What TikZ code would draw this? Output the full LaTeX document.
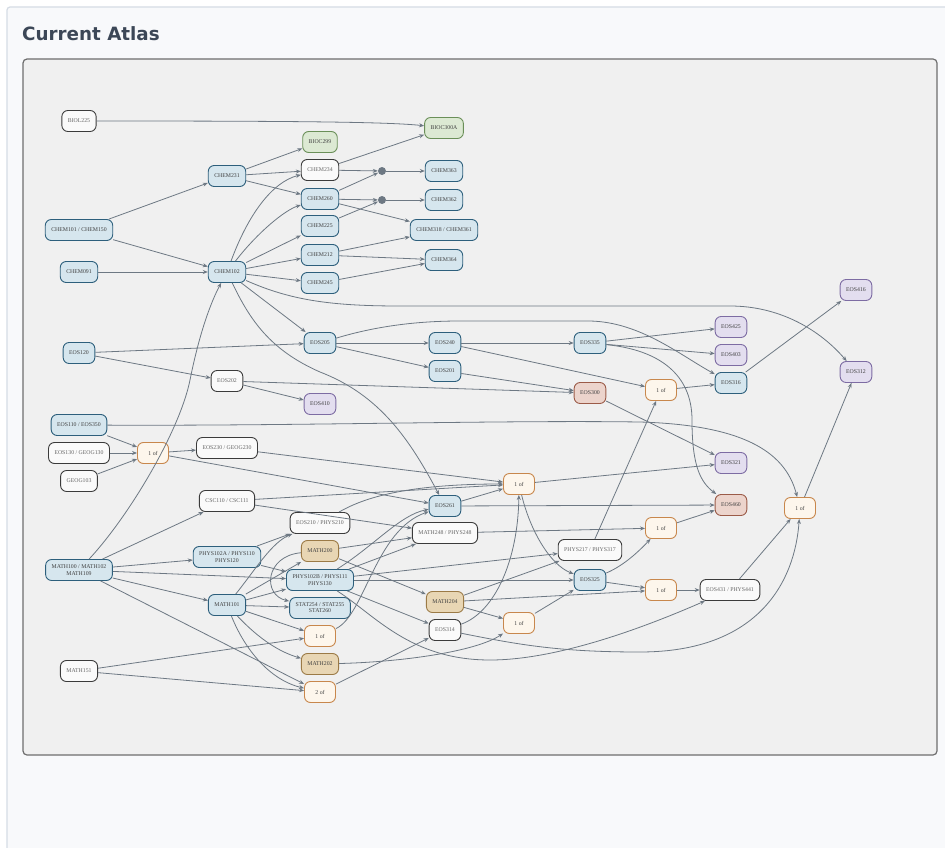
\documentclass[tikz,border=0pt]{standalone}
\usepackage{fontspec}
\usetikzlibrary{arrows.meta}
\newfontfamily\nodefont{Liberation Serif}
\newfontfamily\titlefont{DejaVu Sans}
\definecolor{edgegray}{HTML}{6D7883}
\definecolor{titlecol}{HTML}{3C4757}
\definecolor{cardline}{HTML}{D5DCE5}
\definecolor{cardfill}{HTML}{F8F9FB}
\definecolor{bluefill}{HTML}{D6E6EE}\definecolor{blueline}{HTML}{2D5F7C}
\definecolor{plainfill}{HTML}{FAFAFA}\definecolor{plainline}{HTML}{3B3B3B}
\definecolor{greenfill}{HTML}{DCE9D3}\definecolor{greenline}{HTML}{6A8F58}
\definecolor{purplefill}{HTML}{E3DEEF}\definecolor{purpleline}{HTML}{7D6CA3}
\definecolor{redfill}{HTML}{ECD4CC}\definecolor{redline}{HTML}{9B5B48}
\definecolor{tanfill}{HTML}{E8D6B4}\definecolor{tanline}{HTML}{9B7A46}
\definecolor{pickfill}{HTML}{FDF6EC}\definecolor{pickline}{HTML}{C8874C}
\tikzset{
  course/.style={rounded corners=6pt, draw, line width=0.9pt, align=center,
    font=\nodefont\fontsize{5.8}{6.2}\selectfont, text=black!75,
    inner xsep=6pt, inner ysep=2pt, minimum height=21pt, minimum width=31pt},
  blue/.style={course, fill=bluefill, draw=blueline},
  plain/.style={course, fill=plainfill, draw=plainline, text=black!60},
  green/.style={course, fill=greenfill, draw=greenline},
  purple/.style={course, fill=purplefill, draw=purpleline},
  red/.style={course, fill=redfill, draw=redline},
  tan/.style={course, fill=tanfill, draw=tanline},
  pick/.style={course, fill=pickfill, draw=pickline},
  junction/.style={circle, fill=edgegray, inner sep=0pt, minimum size=8pt},
  edge/.style={draw=edgegray, line width=0.8pt, -{Stealth[length=5pt,width=4pt]}}
}

\begin{document}
\begin{tikzpicture}[x=1pt,y=-1pt]
		%%%%% FRAME %%%%%
		\useasboundingbox (0,0) rectangle (945,848);
		\fill[white] (0,0) rectangle (945,848);
		\draw[fill=cardfill, draw=cardline, line width=1.2pt, rounded corners=3pt] (7,7) rectangle (960,870);
		\node[anchor=base west, inner sep=0pt, text=titlecol, font=\titlefont\bfseries\fontsize{18.3}{20}\selectfont] (title) at (22,41) {Current Atlas};
		\draw[fill=black!6!white, draw=black!57, line width=1.2pt, rounded corners=4pt] (23,59) rectangle (937,755);
		
		%%%%% CHEMISTRY %%%%%
		\node[plain] (biol225) at (79,121) {BIOL225};
		\node[green] (bioc300a) at (444,128) {BIOC300A};
		\node[green] (bioc299) at (320,142) {BIOC299};
		\node[plain] (chem234) at (320,170) {CHEM234};
		\node[blue] (chem231) at (227,176) {CHEM231};
		\node[blue] (chem363) at (444,171) {CHEM363};
		\node[blue] (chem260) at (320,199) {CHEM260};
		\node[blue] (chem362) at (444,200) {CHEM362};
		\node[junction] (dotA) at (382,171) {};
		\node[junction] (dotB) at (382,200) {};
		\node[blue] (chem225) at (320,226) {CHEM225};
		\node[blue] (chem318) at (444,230) {CHEM318 / CHEM361};
		\node[blue] (chem101) at (79,230) {CHEM101 / CHEM150};
		\node[blue] (chem212) at (320,255) {CHEM212};
		\node[blue] (chem364) at (444,260) {CHEM364};
		\node[blue] (chem091) at (79,272) {CHEM091};
		\node[blue] (chem102) at (227,272) {CHEM102};
		\node[blue] (chem245) at (320,283) {CHEM245};
		
		%%%%% EARTH AND OCEAN %%%%%
		\node[purple] (eos416) at (856,290) {EOS416};
		\node[purple] (eos425) at (731,327) {EOS425};
		\node[blue] (eos205) at (320,343) {EOS205};
		\node[blue] (eos240) at (445,343) {EOS240};
		\node[blue] (eos335) at (590,343) {EOS335};
		\node[blue] (eos120) at (79,353) {EOS120};
		\node[purple] (eos403) at (731,355) {EOS403};
		\node[blue] (eos201) at (445,371) {EOS201};
		\node[purple] (eos312) at (856,372) {EOS312};
		\node[blue] (eos316) at (731,383) {EOS316};
		\node[plain] (eos202) at (227,381) {EOS202};
		\node[pick] (oneofA) at (661,390) {1 of};
		\node[red] (eos300) at (590,393) {EOS300};
		\node[purple] (eos410) at (320,404) {EOS410};
		\node[blue] (eos110) at (79,425) {EOS110 / EOS350};
		\node[plain] (eos130) at (79,453) {EOS130 / GEOG130};
		\node[pick] (oneofB) at (153,453) {1 of};
		\node[plain] (eos230) at (227,448) {EOS230 / GEOG230};
		\node[purple] (eos321) at (731,463) {EOS321};
		\node[plain] (geog103) at (79,481) {GEOG103};
		\node[pick] (oneofC) at (519,484) {1 of};
		\node[plain] (csc110) at (227,501) {CSC110 / CSC111};
		\node[blue] (eos261) at (445,506) {EOS261};
		\node[red] (eos460) at (731,505) {EOS460};
		\node[pick] (oneofD) at (800,508) {1 of};
		
		%%%%% MATH AND PHYSICS %%%%%
		\node[plain] (eos210) at (320,523) {EOS210 / PHYS210};
		\node[plain] (math248) at (445,533) {MATH248 / PHYS248};
		\node[pick] (oneofE) at (661,528) {1 of};
		\node[tan] (math200) at (320,551) {MATH200};
		\node[plain] (phys217) at (590,550) {PHYS217 / PHYS317};
		\node[blue] (phys102a) at (227,557) {PHYS102A / PHYS110\\PHYS120};
		\node[blue] (math100) at (79,570) {MATH100 / MATH102\\MATH109};
		\node[blue] (phys102b) at (320,580) {PHYS102B / PHYS111\\PHYS130};
		\node[blue] (eos325) at (590,580) {EOS325};
		\node[pick] (oneofF) at (661,590) {1 of};
		\node[plain] (eos431) at (730,590) {EOS431 / PHYS441};
		\node[tan] (math204) at (445,602) {MATH204};
		\node[blue] (math101) at (227,605) {MATH101};
		\node[blue] (stat254) at (320,608) {STAT254 / STAT255\\STAT260};
		\node[pick] (oneofG) at (519,623) {1 of};
		\node[plain] (eos314) at (445,630) {EOS314};
		\node[pick] (oneofH) at (320,636) {1 of};
		\node[tan] (math202) at (320,664) {MATH202};
		\node[plain] (math151) at (79,671) {MATH151};
		\node[pick] (twoof) at (320,692) {2 of};
		
		%%%%% EDGES %%%%%
		\draw[edge] (biol225) .. controls (300,121) and (390,122) .. (bioc300a);
		\draw[edge] (chem234) -- (bioc300a);
		\draw[edge] (chem231) -- (bioc299);
		\draw[edge] (chem231) -- (chem234);
		\draw[edge] (chem231) -- (chem260);
		\draw[edge] (chem101) -- (chem231);
		\draw[edge] (chem101) -- (chem102);
		\draw[edge] (chem091) -- (chem102);
		\draw[edge] (chem102) .. controls (248,215) and (272,182) .. (chem234);
		\draw[edge] (chem102) .. controls (258,232) and (285,210) .. (chem260);
		\draw[edge] (chem102) -- (chem225);
		\draw[edge] (chem102) -- (chem212);
		\draw[edge] (chem102) -- (chem245);
		\draw[edge] (chem234) -- (dotA);
		\draw[edge] (chem260) -- (dotA);
		\draw[edge] (dotA) -- (chem363);
		\draw[edge] (chem260) -- (dotB);
		\draw[edge] (chem225) -- (dotB);
		\draw[edge] (dotB) -- (chem362);
		\draw[edge] (chem260) -- (chem318);
		\draw[edge] (chem212) -- (chem318);
		\draw[edge] (chem212) -- (chem364);
		\draw[edge] (chem245) -- (chem364);
		
		\draw[edge] (chem102) -- (eos205);
		\draw[edge] (chem102) .. controls (290,300) and (330,306) .. (400,306) -- (730,306) .. controls (780,306) and (820,330) .. (eos312);
		\draw[edge] (chem102) .. controls (250,320) and (270,350) .. (320,372) .. controls (380,395) and (410,440) .. (eos261);
		\draw[edge] (math100) .. controls (130,515) and (180,430) .. (190,380) .. controls (200,330) and (212,300) .. (chem102);
		
		\draw[edge] (eos120) -- (eos205);
		\draw[edge] (eos120) -- (eos202);
		\draw[edge] (eos202) -- (eos410);
		\draw[edge] (eos202) -- (eos300);
		\draw[edge] (eos205) -- (eos240);
		\draw[edge] (eos205) -- (eos201);
		\draw[edge] (eos205) .. controls (370,328) and (410,321) .. (460,321) -- (590,321) .. controls (640,322) and (680,355) .. (eos316);
		\draw[edge] (eos240) -- (eos335);
		\draw[edge] (eos240) -- (oneofA);
		\draw[edge] (eos201) -- (eos300);
		\draw[edge] (eos335) -- (eos425);
		\draw[edge] (eos335) -- (eos403);
		\draw[edge] (eos335) .. controls (660,350) and (692,375) .. (692,420) .. controls (692,465) and (700,482) .. (eos460);
		\draw[edge] (oneofA) -- (eos316);
		\draw[edge] (eos316) -- (eos416);
		\draw[edge] (eos300) -- (eos321);
		\draw[edge] (eos110) .. controls (300,426) and (500,420) .. (640,422) .. controls (740,425) and (785,450) .. (oneofD);
		\draw[edge] (eos110) -- (oneofB);
		\draw[edge] (eos130) -- (oneofB);
		\draw[edge] (geog103) -- (oneofB);
		\draw[edge] (oneofB) -- (eos230);
		\draw[edge] (oneofB) -- (eos261);
		\draw[edge] (eos230) -- (oneofC);
		\draw[edge] (oneofD) -- (eos312);
		\draw[edge] (oneofC) -- (eos321);
		\draw[edge] (eos261) -- (oneofC);
		\draw[edge] (eos261) -- (eos460);
		\draw[edge] (csc110) -- (oneofC);
		\draw[edge] (csc110) -- (math248);
		
		\draw[edge] (math100) -- (csc110);
		\draw[edge] (math100) -- (phys102a);
		\draw[edge] (math100) -- (phys102b);
		\draw[edge] (math100) -- (math101);
		\draw[edge] (math100) -- (twoof);
		\draw[edge] (phys102a) -- (eos210);
		\draw[edge] (phys102a) -- (phys102b);
		\draw[edge] (math101) .. controls (255,570) and (272,542) .. (eos210);
		\draw[edge] (math101) -- (math200);
		\draw[edge] (math101) -- (phys102b);
		\draw[edge] (math101) -- (stat254);
		\draw[edge] (math101) -- (oneofH);
		\draw[edge] (math101) .. controls (260,640) and (280,652) .. (math202);
		\draw[edge] (math101) .. controls (245,650) and (270,680) .. (twoof);
		\draw[edge] (math200) .. controls (265,556) and (262,595) .. (stat254);
		\draw[edge] (math200) -- (math248);
		\draw[edge] (math200) -- (math204);
		\draw[edge] (phys102b) .. controls (375,545) and (400,515) .. (eos261);
		\draw[edge] (phys102b) -- (math248);
		\draw[edge] (phys102b) -- (phys217);
		\draw[edge] (phys102b) -- (eos325);
		\draw[edge] (phys102b) -- (eos314);
		\draw[edge] (phys102b) .. controls (375,615) and (410,660) .. (490,660) .. controls (560,660) and (650,625) .. (eos431);
		\draw[edge] (oneofH) .. controls (365,615) and (375,530) .. (eos261);
		\draw[edge] (math151) -- (oneofH);
		\draw[edge] (math151) -- (twoof);
		\draw[edge] (twoof) -- (eos314);
		\draw[edge] (math202) .. controls (400,662) and (475,652) .. (oneofG);
		\draw[edge] (math204) -- (oneofG);
		\draw[edge] (math204) -- (phys217);
		\draw[edge] (math204) -- (oneofF);
		\draw[edge] (oneofG) -- (eos325);
		\draw[edge] (eos314) .. controls (495,612) and (518,560) .. (oneofC);
		\draw[edge] (eos314) .. controls (520,645) and (560,652) .. (640,652) .. controls (760,652) and (795,580) .. (oneofD);
		\draw[edge] (oneofC) .. controls (530,530) and (550,565) .. (eos325);
		\draw[edge] (eos325) .. controls (625,565) and (640,550) .. (oneofE);
		\draw[edge] (eos325) -- (oneofF);
		\draw[edge] (oneofF) -- (eos431);
		\draw[edge] (eos431) -- (oneofD);
		\draw[edge] (oneofE) -- (eos460);
		\draw[edge] (math248) -- (oneofE);
		\draw[edge] (phys217) -- (oneofA);
		\draw[edge] (eos210) .. controls (360,500) and (400,484) .. (oneofC);
		
		%%%%% END %%%%%
	\end{tikzpicture}
\end{document}
